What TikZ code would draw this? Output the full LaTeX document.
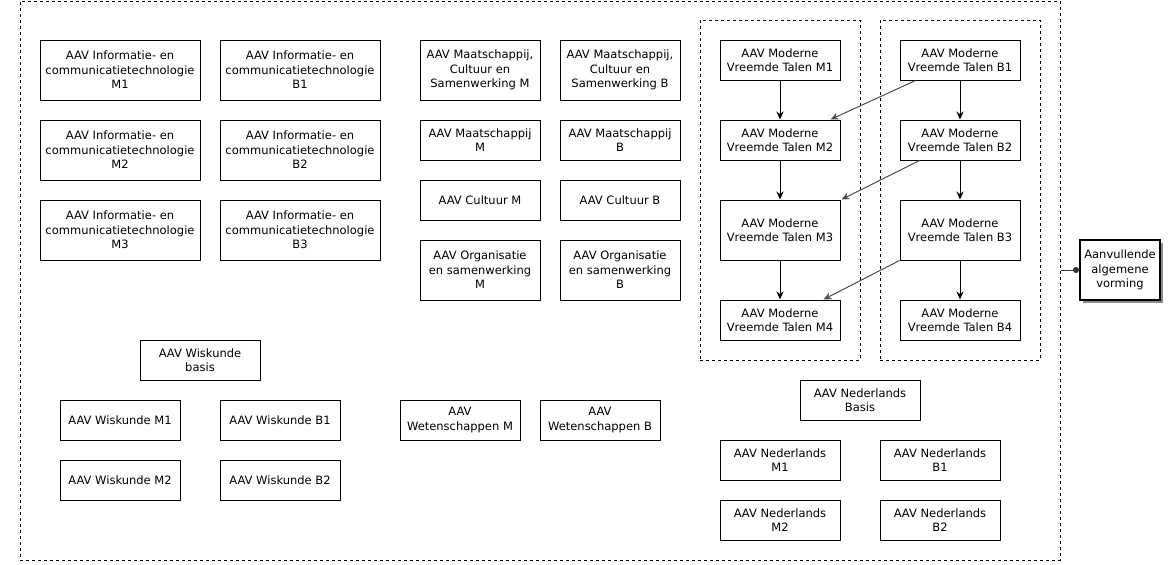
\documentclass[tikz,border=0pt]{standalone}
\usepackage{fontspec}
\setmainfont{DejaVu Sans}
\usetikzlibrary{arrows.meta, shadows}
\newcommand{\vf}{\fontsize{11.5}{14.5}\selectfont}

\tikzset{
    vak/.style={draw, line width=1pt, minimum width=120pt, minimum height=40pt,
        inner sep=0pt, align=center, font=\vf},
    breed/.style={vak, minimum width=160pt},
    hoog/.style={minimum height=60pt},
    groep/.style={draw, line width=1pt, dash pattern=on 3pt off 3pt, inner sep=0pt},
    pijl/.style={-{Stealth[length=8pt, width=7pt]}, line width=1pt},
    schuin/.style={pijl, draw=black!70},
}

\begin{document}
\begin{tikzpicture}[x=1pt, y=-1pt]
    \useasboundingbox (0,0) rectangle (1168,565);

    % kader
    \node [groep, minimum width=1040pt, minimum height=559pt] (aav) at (540, 280.5) {};
    \node [groep, minimum width=160pt, minimum height=340pt] (grpM) at (780, 190) {};
    \node [groep, minimum width=160pt, minimum height=340pt] (grpB) at (960, 190) {};

    % ICT
    \node [breed, hoog] (iM1) at (120, 70) {AAV Informatie- en\\communicatietechnologie\\M1};
    \node [breed, hoog] (iB1) at (300, 70) {AAV Informatie- en\\communicatietechnologie\\B1};
    \node [breed, hoog] (iM2) at (120, 150) {AAV Informatie- en\\communicatietechnologie\\M2};
    \node [breed, hoog] (iB2) at (300, 150) {AAV Informatie- en\\communicatietechnologie\\B2};
    \node [breed, hoog] (iM3) at (120, 230) {AAV Informatie- en\\communicatietechnologie\\M3};
    \node [breed, hoog] (iB3) at (300, 230) {AAV Informatie- en\\communicatietechnologie\\B3};

    % maatschappij, cultuur, samenwerking
    \node [vak, hoog] (mcsM) at (480, 70) {AAV Maatschappij,\\Cultuur en\\Samenwerking M};
    \node [vak, hoog] (mcsB) at (620, 70) {AAV Maatschappij,\\Cultuur en\\Samenwerking B};
    \node [vak] (maM) at (480, 140) {AAV Maatschappij\\M};
    \node [vak] (maB) at (620, 140) {AAV Maatschappij\\B};
    \node [vak] (cuM) at (480, 200) {AAV Cultuur M};
    \node [vak] (cuB) at (620, 200) {AAV Cultuur B};
    \node [vak, hoog] (osM) at (480, 270) {AAV Organisatie\\en samenwerking\\M};
    \node [vak, hoog] (osB) at (620, 270) {AAV Organisatie\\en samenwerking\\B};

    % moderne vreemde talen
    \node [vak] (vM1) at (780, 60) {AAV Moderne\\Vreemde Talen M1};
    \node [vak] (vM2) at (780, 140) {AAV Moderne\\Vreemde Talen M2};
    \node [vak, hoog] (vM3) at (780, 230) {AAV Moderne\\Vreemde Talen M3};
    \node [vak] (vM4) at (780, 320) {AAV Moderne\\Vreemde Talen M4};
    \node [vak] (vB1) at (960, 60) {AAV Moderne\\Vreemde Talen B1};
    \node [vak] (vB2) at (960, 140) {AAV Moderne\\Vreemde Talen B2};
    \node [vak, hoog] (vB3) at (960, 230) {AAV Moderne\\Vreemde Talen B3};
    \node [vak] (vB4) at (960, 320) {AAV Moderne\\Vreemde Talen B4};

    % wiskunde
    \node [vak] (wBasis) at (200, 360) {AAV Wiskunde\\basis};
    \node [vak] (wM1) at (120, 420) {AAV Wiskunde M1};
    \node [vak] (wB1) at (280, 420) {AAV Wiskunde B1};
    \node [vak] (wM2) at (120, 480) {AAV Wiskunde M2};
    \node [vak] (wB2) at (280, 480) {AAV Wiskunde B2};

    % wetenschappen
    \node [vak] (wetM) at (460, 420) {AAV\\Wetenschappen M};
    \node [vak] (wetB) at (600, 420) {AAV\\Wetenschappen B};

    % nederlands
    \node [vak] (nBasis) at (860, 400) {AAV Nederlands\\Basis};
    \node [vak] (nM1) at (780, 460) {AAV Nederlands\\M1};
    \node [vak] (nB1) at (940, 460) {AAV Nederlands\\B1};
    \node [vak] (nM2) at (780, 520) {AAV Nederlands\\M2};
    \node [vak] (nB2) at (940, 520) {AAV Nederlands\\B2};

    % aanvullende algemene vorming
    \node [vak, minimum width=80pt, hoog, line width=2pt, fill=white,
        drop shadow={shadow xshift=3pt, shadow yshift=-3pt, fill=black!45, opacity=1}]
        (aanv) at (1120, 270) {Aanvullende\\algemene\\vorming};
    \draw [-{Circle[length=6pt]}, line width=1pt, black!80] (aanv.west -| aav.east) -- (aanv.west);

    % lijnen
    \draw [pijl] (vM1) -- (vM2);
    \draw [pijl] (vM2) -- (vM3);
    \draw [pijl] (vM3) -- (vM4);
    \draw [pijl] (vB1) -- (vB2);
    \draw [pijl] (vB2) -- (vB3);
    \draw [pijl] (vB3) -- (vB4);

    \draw [schuin] ([xshift=16pt]vB1.south west) -- ([xshift=-10pt]vM2.north east);
    \draw [schuin] ([xshift=20pt]vB2.south west) -- ([xshift=1pt]vM3.north east);
    \draw [schuin] (vB3.south west) -- ([xshift=-17pt]vM4.north east);
\end{tikzpicture}
\end{document}
